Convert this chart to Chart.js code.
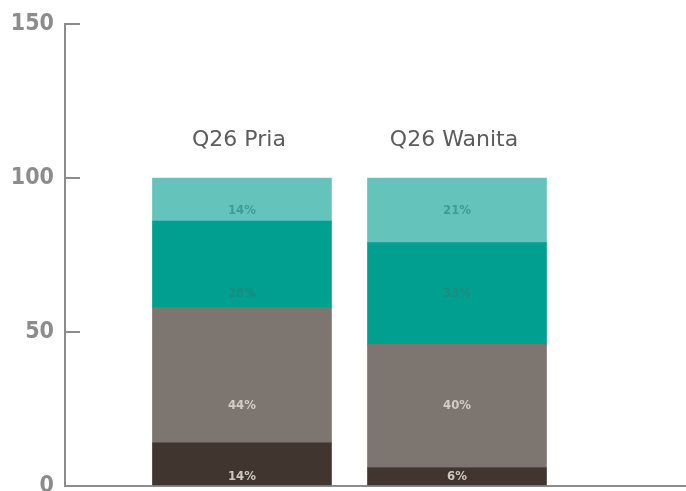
<!DOCTYPE html>
<html>
<head>
<meta charset="utf-8">
<title>Q26</title>
<script src="https://cdn.jsdelivr.net/npm/chart.js@4.4.1/dist/chart.umd.min.js"></script>
<style>
    html, body { margin: 0; padding: 0; background: #fff; overflow: hidden; }
    #chart { display: block; }
</style>
</head>
<body>
<canvas id="chart" width="686" height="500"></canvas>
<script>
// Chart data
const categories = ['Q26 Pria', 'Q26 Wanita'];
const seriesNames = ['Jawaban 1', 'Jawaban 2', 'Jawaban 3', 'Jawaban 4']; // bottom to top
const answer1 = [14, 6];
const answer2 = [44, 40];
const answer3 = [28, 33];
const answer4 = [14, 21];
const yTicks = [0, 50, 100, 150];

const seriesColors = ['#40362f', '#7d7570', '#009f8f', '#64c4bb'];
const labelColors = ['#cfc8c1', '#d2cdc8', '#1b8c7f', '#3c9d94'];
const axisColor = '#8c8c8c';

// Category names above the bars + percent labels inside the segments
const barLabels = {
    id: 'barLabels',
    afterDatasetsDraw(chart) {
        const ctx = chart.ctx;
        const x = chart.scales.x;
        const y = chart.scales.y;
        ctx.save();
        ctx.textAlign = 'center';
        ctx.textBaseline = 'middle';

        ctx.fillStyle = '#5c5c5c';
        ctx.font = '22px "DejaVu Sans", sans-serif';
        categories.forEach((name, i) => {
            ctx.fillText(name, x.getPixelForValue(i) - 3, y.getPixelForValue(100) - 38);
        });

        ctx.font = 'bold 13px "DejaVu Sans Condensed", "DejaVu Sans", sans-serif';
        chart.data.datasets.forEach((ds, d) => {
            const bars = chart.getDatasetMeta(d).data;
            // labels of one series share a row, at the lowest segment middle
            let rowY = 0;
            bars.forEach(bar => {
                const p = bar.getProps(['y', 'base'], true);
                rowY = Math.max(rowY, (p.y + p.base) / 2);
            });
            ctx.fillStyle = labelColors[d];
            bars.forEach((bar, i) => {
                ctx.fillText(ds.data[i] + '%', bar.x, rowY);
            });
        });
        ctx.restore();
    }
};

const seriesValues = [answer1, answer2, answer3, answer4];

new Chart(document.getElementById('chart'), {
    type: 'bar',
    data: {
        labels: categories.map((c, i) => i),
        datasets: seriesValues.map((vals, i) => ({
            label: seriesNames[i],
            data: vals,
            backgroundColor: seriesColors[i],
            borderWidth: 0,
            barThickness: 179
        }))
    },
    options: {
        responsive: false,
        animation: false,
        layout: { padding: 0 },
        plugins: {
            legend: { display: false },
            tooltip: { enabled: false }
        },
        scales: {
            x: {
                type: 'linear',
                stacked: true,
                offset: false,
                bounds: 'data',
                min: -0.823,
                max: 2.065,
                ticks: { display: false },
                grid: { display: false, offset: false },
                border: { color: axisColor, width: 2 }
            },
            y: {
                stacked: true,
                min: 0,
                max: 150,
                afterBuildTicks: scale => {
                    scale.ticks = yTicks.map(v => ({ value: v }));
                },
                afterFit: scale => {
                    scale.width = 65;
                    scale.paddingTop = 24;
                    scale.paddingBottom = 14;
                },
                ticks: {
                    color: axisColor,
                    padding: 26,
                    font: { family: '"DejaVu Sans Condensed", "DejaVu Sans", sans-serif', size: 23, weight: 'bold' }
                },
                grid: {
                    drawOnChartArea: false,
                    drawTicks: true,
                    tickLength: -15,
                    tickColor: axisColor,
                    lineWidth: 2
                },
                border: { color: axisColor, width: 2 }
            }
        }
    },
    plugins: [barLabels]
});
</script>
</body>
</html>
